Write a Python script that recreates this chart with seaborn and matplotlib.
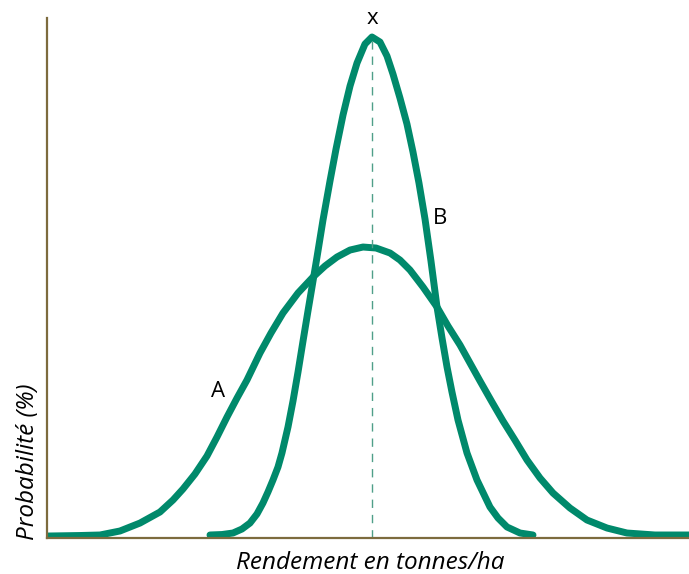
import numpy as np
import pandas as pd
import matplotlib
matplotlib.use("Agg")
import matplotlib.pyplot as plt
import seaborn as sns

# Courbe A : rendement (x) et probabilité (y)
a_x = [0.000, 0.514, 0.826, 1.137, 1.449, 1.760, 1.963, 2.118, 2.305, 2.492,
       2.648, 2.804, 2.960, 3.115, 3.318, 3.489, 3.676, 3.910, 4.143, 4.330,
       4.517, 4.720, 4.922, 5.125, 5.343, 5.498, 5.654, 5.857, 6.075, 6.246,
       6.433, 6.589, 6.745, 6.931, 7.103, 7.290, 7.477, 7.679, 7.882, 8.146,
       8.411, 8.723, 9.034, 9.470, 10.00]
a_y = [0.38, 0.48, 0.58, 1.35, 2.88, 5.00, 7.31, 9.42, 12.31, 15.77,
       19.42, 23.27, 26.92, 30.38, 35.58, 39.42, 43.27, 47.12, 50.19, 52.31,
       54.04, 55.38, 55.96, 55.77, 54.81, 53.46, 51.54, 48.27, 44.42, 40.77,
       37.12, 33.65, 30.19, 26.15, 22.50, 18.81, 15.00, 11.54, 8.65, 5.77,
       3.46, 1.92, 0.96, 0.58, 0.58]

# Courbe B
b_x = [2.539, 2.726, 2.897, 3.037, 3.162, 3.271, 3.364, 3.442, 3.520, 3.598,
       3.660, 3.754, 3.832, 3.910, 3.988, 4.065, 4.128, 4.206, 4.299, 4.408,
       4.502, 4.611, 4.720, 4.829, 4.953, 5.062, 5.187, 5.296, 5.389, 5.498,
       5.607, 5.701, 5.794, 5.888, 5.981, 6.075, 6.153, 6.231, 6.308, 6.402,
       6.542, 6.698, 6.900, 7.025, 7.165, 7.368, 7.570]
b_y = [0.58, 0.67, 0.96, 1.73, 2.88, 4.62, 6.73, 8.85, 11.15, 13.65,
       16.35, 21.35, 26.35, 31.92, 37.88, 43.65, 48.27, 54.04, 61.15, 68.65,
       74.81, 81.35, 86.92, 91.35, 95.00, 96.35, 95.38, 92.69, 89.23, 84.62,
       79.62, 74.23, 68.27, 61.35, 53.27, 44.42, 38.46, 32.88, 28.08, 22.69,
       16.35, 11.15, 5.96, 3.85, 2.12, 0.96, 0.58]

x_mean = 5.062
peak_b = 96.3

green = "#00896b"
axis_col = "#7d6b3e"

df = pd.concat([
    pd.DataFrame({"rendement": a_x, "proba": a_y, "courbe": "A"}),
    pd.DataFrame({"rendement": b_x, "proba": b_y, "courbe": "B"}),
])

sns.set_style("white")
plt.rcParams["font.family"] = ["Open Sans", "DejaVu Sans"]
plt.rcParams["text.color"] = "black"

fig = plt.figure(figsize=(6.89, 5.74), dpi=100)
ax = fig.add_axes([0.0682, 0.0627, 0.9318, 0.9059])

sns.lineplot(data=df, x="rendement", y="proba", hue="courbe", units="courbe",
             estimator=None, sort=False, palette=[green, green], linewidth=5,
             solid_capstyle="round", solid_joinstyle="round", legend=False, ax=ax)

ax.vlines(x_mean, 0, peak_b, colors="#4f9f89", linestyles=(0, (6, 5)), linewidth=1)

ax.set_xlim(0, 10)
ax.set_ylim(0, 100)
ax.set_xticks([])
ax.set_yticks([])
ax.set_xlabel("")
ax.set_ylabel("")
for side in ["top", "right"]:
    ax.spines[side].set_visible(False)
for side in ["left", "bottom"]:
    ax.spines[side].set_color(axis_col)
    ax.spines[side].set_linewidth(1.6)

ax.text(x_mean, 100, "x", ha="center", va="center", fontsize=16, clip_on=False)
ax.text(2.66, 28.1, "A", ha="center", va="center", fontsize=16)
ax.text(6.12, 61.5, "B", ha="center", va="center", fontsize=16)

fig.text(0.538, 0.019, "Rendement en tonnes/ha", ha="center", va="center",
         fontsize=17.5, style="italic")
fig.text(0.041, 0.196, "Probabilité (%)", ha="center", va="center",
         rotation=90, fontsize=17.5, style="italic")

fig.savefig("out.png", dpi=100)
